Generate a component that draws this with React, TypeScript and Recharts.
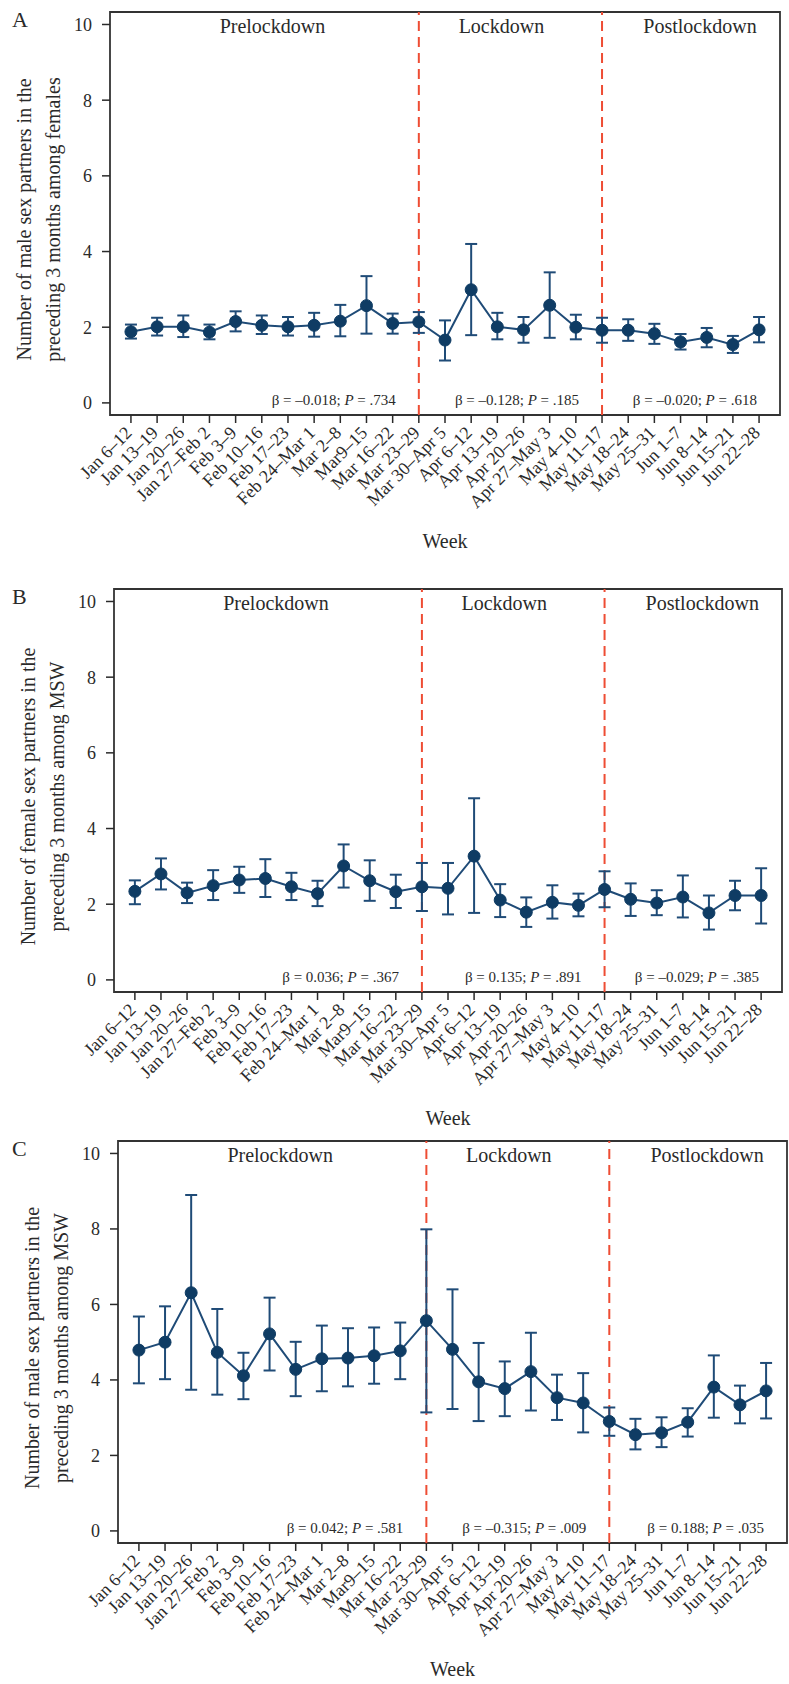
import {
  ComposedChart,
  Line,
  ErrorBar,
  XAxis,
  YAxis,
  ReferenceLine,
  ReferenceArea,
} from "recharts";

const WEEKS = [
  "Jan 6–12", "Jan 13–19", "Jan 20–26", "Jan 27–Feb 2", "Feb 3–9",
  "Feb 10–16", "Feb 17–23", "Feb 24–Mar 1", "Mar 2–8", "Mar9–15",
  "Mar 16–22", "Mar 23–29", "Mar 30–Apr 5", "Apr 6–12", "Apr 13–19",
  "Apr 20–26", "Apr 27–May 3", "May 4–10", "May 11–17", "May 18–24",
  "May 25–31", "Jun 1–7", "Jun 8–14", "Jun 15–21", "Jun 22–28",
];

// A: male partners among females
const FEMALES_MEAN = [1.88, 2.01, 2.01, 1.87, 2.15, 2.05, 2.01, 2.05, 2.16, 2.57, 2.10, 2.14, 1.66, 2.99, 2.01, 1.93, 2.58, 2.00, 1.92, 1.92, 1.83, 1.61, 1.73, 1.54, 1.93];
const FEMALES_LO = [1.70, 1.78, 1.74, 1.68, 1.89, 1.82, 1.78, 1.75, 1.76, 1.83, 1.83, 1.85, 1.12, 1.79, 1.68, 1.59, 1.72, 1.68, 1.59, 1.64, 1.56, 1.41, 1.47, 1.32, 1.60];
const FEMALES_HI = [2.07, 2.25, 2.31, 2.07, 2.42, 2.31, 2.27, 2.38, 2.59, 3.35, 2.36, 2.40, 2.18, 4.20, 2.38, 2.27, 3.45, 2.33, 2.25, 2.21, 2.09, 1.82, 1.98, 1.77, 2.27];

// B: female partners among MSW
const MSW_FEMALE_MEAN = [2.34, 2.80, 2.30, 2.49, 2.64, 2.68, 2.46, 2.28, 3.01, 2.62, 2.33, 2.46, 2.42, 3.27, 2.11, 1.79, 2.05, 1.97, 2.39, 2.13, 2.03, 2.19, 1.77, 2.23, 2.23];
const MSW_FEMALE_LO = [2.00, 2.39, 2.03, 2.11, 2.30, 2.19, 2.11, 1.95, 2.44, 2.09, 1.90, 1.82, 1.73, 1.77, 1.66, 1.40, 1.62, 1.68, 1.92, 1.69, 1.71, 1.65, 1.33, 1.84, 1.49];
const MSW_FEMALE_HI = [2.63, 3.21, 2.57, 2.90, 2.99, 3.19, 2.83, 2.62, 3.58, 3.16, 2.78, 3.09, 3.09, 4.80, 2.53, 2.18, 2.50, 2.28, 2.87, 2.55, 2.37, 2.76, 2.23, 2.62, 2.95];

// C: male partners among MSW
const MSW_MALE_MEAN = [4.79, 5.00, 6.31, 4.73, 4.11, 5.22, 4.28, 4.56, 4.58, 4.64, 4.77, 5.57, 4.81, 3.95, 3.77, 4.22, 3.53, 3.39, 2.90, 2.55, 2.60, 2.88, 3.81, 3.34, 3.71];
const MSW_MALE_LO = [3.91, 4.02, 3.74, 3.61, 3.49, 4.25, 3.57, 3.70, 3.83, 3.90, 4.02, 3.14, 3.23, 2.91, 3.04, 3.19, 2.94, 2.61, 2.52, 2.16, 2.22, 2.50, 3.00, 2.85, 2.98];
const MSW_MALE_HI = [5.68, 5.95, 8.90, 5.88, 4.72, 6.18, 5.01, 5.44, 5.37, 5.39, 5.52, 7.99, 6.40, 4.98, 4.49, 5.25, 4.14, 4.18, 3.27, 2.97, 3.01, 3.25, 4.65, 3.85, 4.45];

const Y_TICKS = [0, 2, 4, 6, 8, 10];
const X_TICKS = WEEKS.map((_, i) => i);
const LOCKDOWN_START = 11;
const LOCKDOWN_END = 18;

const FONT = '"Liberation Serif", "Times New Roman", serif';
const INK = "#2a2a2a";
const NAVY = "#0f3c64";
const LINE = "#1f4b77";
const RED = "#ee4d34";
const X_DOMAIN: [number, number] = [-0.8, 24.8];
const Y_DOMAIN: [number, number] = [-0.32, 10.33];
const AXIS_H = 140;

function buildRows(mean: number[], lo: number[], hi: number[]) {
  return WEEKS.map((week, i) => ({
    i,
    week,
    mean: mean[i],
    err: [+(mean[i] - lo[i]).toFixed(2), +(hi[i] - mean[i]).toFixed(2)],
  }));
}

function WeekTick({ x, y, payload }: any) {
  return (
    <g transform={`translate(${x + 2},${y + 9}) rotate(-45)`}>
      <text x={0} y={0} textAnchor="end" fontFamily={FONT} fontSize={18} fill={INK}>
        {WEEKS[payload.value]}
      </text>
    </g>
  );
}

const betaLabel = (beta: string, p: string) => (props: any) => {
  const vb = props.viewBox;
  if (!vb) return null;
  return (
    <text
      x={vb.x + vb.width - 23}
      y={vb.y + vb.height - 10}
      textAnchor="end"
      fontFamily={FONT}
      fontSize={15}
      fill={INK}
    >
      β = {beta}; <tspan fontStyle="italic">P</tspan> = {p}
    </text>
  );
};

interface PanelProps {
  letter: string;
  titleLines: [string, string];
  betas: [string, string][];
  mean: number[];
  lo: number[];
  hi: number[];
  top: number;
  left: number;
  right: number;
  plotH: number;
}

function Panel({ letter, titleLines, betas, mean, lo, hi, top, left, right, plotH }: PanelProps) {
  const data = buildRows(mean, lo, hi);
  const height = 12 + plotH + AXIS_H;
  const cy = 12 + plotH / 2 + 6;

  const yTitle = () => (
    <g fontFamily={FONT} fill={INK}>
      <text x={12} y={27} fontSize={22}>{letter}</text>
      <text x={left - 79} y={cy} fontSize={20} textAnchor="middle" transform={`rotate(-90, ${left - 79}, ${cy})`}>
        {titleLines[0]}
      </text>
      <text x={left - 50} y={cy} fontSize={20} textAnchor="middle" transform={`rotate(-90, ${left - 50}, ${cy})`}>
        {titleLines[1]}
      </text>
    </g>
  );

  const phaseStyle = { position: "insideTop" as const, offset: 7, fontFamily: FONT, fontSize: 20, fill: INK };

  return (
    <div style={{ position: "absolute", left: 0, top, width: 789, height }}>
      <ComposedChart
        width={789}
        height={height}
        data={data}
        margin={{ top: 12, right: 789 - right, bottom: 0, left: left - 50 }}
      >
        <XAxis
          type="number"
          dataKey="i"
          domain={X_DOMAIN}
          ticks={X_TICKS}
          interval={0}
          allowDataOverflow
          axisLine={false}
          tickSize={8}
          tickLine={{ stroke: INK, strokeWidth: 1.5 }}
          tick={<WeekTick />}
          height={AXIS_H}
          label={{ value: "Week", position: "insideBottom", offset: 7, fontFamily: FONT, fontSize: 20, fill: INK }}
        />
        <YAxis
          type="number"
          domain={Y_DOMAIN}
          ticks={Y_TICKS}
          allowDataOverflow
          width={50}
          axisLine={false}
          tickSize={8}
          tickMargin={10}
          tickLine={{ stroke: INK, strokeWidth: 1.5 }}
          tick={{ fontFamily: FONT, fontSize: 18, fill: INK }}
          label={yTitle}
        />

        <ReferenceArea
          x1={X_DOMAIN[0]}
          x2={LOCKDOWN_START}
          fill="none"
          stroke="none"
          label={{ value: "Prelockdown", dx: 8, ...phaseStyle }}
        />
        <ReferenceArea
          x1={LOCKDOWN_START}
          x2={LOCKDOWN_END}
          fill="none"
          stroke="none"
          label={{ value: "Lockdown", dx: -9, ...phaseStyle }}
        />
        <ReferenceArea
          x1={LOCKDOWN_END}
          x2={X_DOMAIN[1]}
          fill="none"
          stroke="none"
          label={{ value: "Postlockdown", dx: 9, ...phaseStyle }}
        />

        <ReferenceArea x1={X_DOMAIN[0]} x2={LOCKDOWN_START} fill="none" stroke="none" label={betaLabel(...betas[0])} />
        <ReferenceArea x1={LOCKDOWN_START} x2={LOCKDOWN_END} fill="none" stroke="none" label={betaLabel(...betas[1])} />
        <ReferenceArea x1={LOCKDOWN_END} x2={X_DOMAIN[1]} fill="none" stroke="none" label={betaLabel(...betas[2])} />

        <ReferenceLine x={LOCKDOWN_START} stroke={RED} strokeWidth={2} strokeDasharray="10 6" />
        <ReferenceLine x={LOCKDOWN_END} stroke={RED} strokeWidth={2} strokeDasharray="10 6" />

        <ReferenceArea
          x1={X_DOMAIN[0]}
          x2={X_DOMAIN[1]}
          y1={Y_DOMAIN[0]}
          y2={Y_DOMAIN[1]}
          fill="none"
          stroke="#333"
          strokeWidth={1.8}
        />

        <Line
          type="linear"
          dataKey="mean"
          stroke={LINE}
          strokeWidth={2}
          dot={{ r: 6, fill: NAVY, stroke: NAVY, strokeWidth: 1 }}
          isAnimationActive={false}
        >
          <ErrorBar dataKey="err" width={6} stroke={LINE} strokeWidth={2} direction="y" isAnimationActive={false} />
        </Line>
      </ComposedChart>
    </div>
  );
}

export default function App() {
  return (
    <div
      style={{
        position: "absolute",
        left: 0,
        top: 0,
        width: 789,
        height: 1684,
        overflow: "hidden",
        background: "#fff",
      }}
    >
      <Panel
        letter="A"
        titleLines={["Number of male sex partners in the", "preceding 3 months among females"]}
        betas={[["–0.018", ".734"], ["–0.128", ".185"], ["–0.020", ".618"]]}
        mean={FEMALES_MEAN}
        lo={FEMALES_LO}
        hi={FEMALES_HI}
        top={0}
        left={110}
        right={780}
        plotH={403}
      />
      <Panel
        letter="B"
        titleLines={["Number of female sex partners in the", "preceding 3 months among MSW"]}
        betas={[["0.036", ".367"], ["0.135", ".891"], ["–0.029", ".385"]]}
        mean={MSW_FEMALE_MEAN}
        lo={MSW_FEMALE_LO}
        hi={MSW_FEMALE_HI}
        top={577}
        left={114}
        right={782}
        plotH={403}
      />
      <Panel
        letter="C"
        titleLines={["Number of male sex partners in the", "preceding 3 months among MSW"]}
        betas={[["0.042", ".581"], ["–0.315", ".009"], ["0.188", ".035"]]}
        mean={MSW_MALE_MEAN}
        lo={MSW_MALE_LO}
        hi={MSW_MALE_HI}
        top={1129}
        left={118}
        right={787}
        plotH={402}
      />
    </div>
  );
}
